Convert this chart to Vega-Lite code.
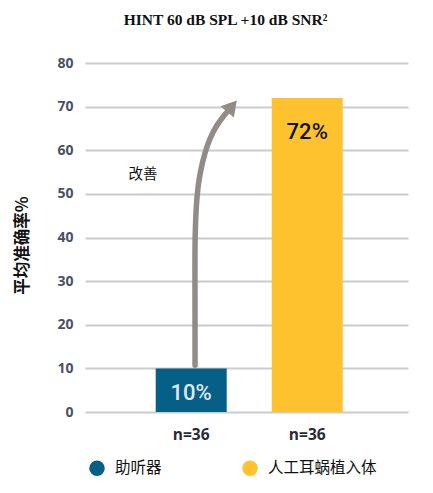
{
  "$schema": "https://vega.github.io/schema/vega-lite/v6.json",
  "autosize": "none",
  "padding": {"left": 85, "top": 63, "right": 25, "bottom": 81},
  "width": 323,
  "height": 349,
  "background": "white",
  "title": {
    "text": "HINT 60 dB SPL +10 dB SNR²",
    "font": "Liberation Serif",
    "fontSize": 15.5,
    "fontWeight": "bold",
    "color": "#111111",
    "anchor": "middle",
    "dx": -21,
    "offset": 28
  },
  "config": {
    "view": {"stroke": null},
    "font": "Open Sans"
  },
  "datasets": {
    "bars": [
      {"device": "助听器", "accuracy": 10, "label": "10%"},
      {"device": "人工耳蜗植入体", "accuracy": 72, "label": "72%"}
    ],
    "arrow": [
      {"i": 1, "u": 1.033, "v": 10.7},
      {"i": 2, "u": 1.033, "v": 29.0},
      {"i": 3, "u": 1.031, "v": 39.8},
      {"i": 4, "u": 1.047, "v": 49.7},
      {"i": 5, "u": 1.076, "v": 54.9},
      {"i": 6, "u": 1.119, "v": 59.6},
      {"i": 7, "u": 1.162, "v": 62.8},
      {"i": 8, "u": 1.22, "v": 65.8},
      {"i": 9, "u": 1.283, "v": 68.0},
      {"i": 10, "u": 1.33, "v": 69.4}
    ],
    "head": [{"u": 1.352, "v": 70.1}],
    "note": [{"u": 0.584, "v": 54.3, "text": "改善"}]
  },
  "layer": [
    {
      "data": {"name": "bars"},
      "encoding": {
        "x": {
          "field": "device",
          "type": "nominal",
          "sort": null,
          "scale": {"paddingInner": 0.388, "paddingOuter": 0.586, "align": 0.52},
          "axis": {
            "title": null,
            "labelExpr": "'n=36'",
            "labelAngle": 0,
            "ticks": false,
            "domain": false,
            "labelFont": "Open Sans",
            "labelFontWeight": "bold",
            "labelFontSize": 15.5,
            "labelColor": "#2a2a35",
            "labelPadding": 15
          }
        },
        "y": {
          "field": "accuracy",
          "type": "quantitative",
          "scale": {"domain": [0, 80], "nice": false},
          "axis": {
            "title": "平均准确率%",
            "titleFont": "Noto Sans CJK SC",
            "titleFontSize": 16.5,
            "titleFontWeight": "bold",
            "titleColor": "#111111",
            "titleAngle": -90,
            "titleX": -63,
            "titleY": 182,
            "titleAlign": "center",
            "titleBaseline": "middle",
            "values": [0, 10, 20, 30, 40, 50, 60, 70, 80],
            "ticks": false,
            "domain": false,
            "grid": true,
            "gridColor": "#c9cbcd",
            "gridWidth": 2,
            "labelFont": "Open Sans",
            "labelFontWeight": "bold",
            "labelFontSize": 14,
            "labelColor": "#48525f",
            "labelPadding": 12
          }
        }
      },
      "layer": [
        {
          "mark": {"type": "bar"},
          "encoding": {
            "color": {
              "field": "device",
              "type": "nominal",
              "sort": null,
              "scale": {"range": ["#065f87", "#fdc22e"]},
              "legend": {
                "title": null,
                "orient": "none",
                "direction": "horizontal",
                "legendX": 4,
                "legendY": 397,
                "symbolType": "circle",
                "symbolSize": 240,
                "symbolOpacity": 1,
                "symbolStrokeWidth": 0,
                "labelFont": "Noto Sans CJK SC",
                "labelFontSize": 15.5,
                "labelColor": "#111111",
                "labelOffset": 10,
                "columnPadding": 80
              }
            }
          }
        },
        {
          "transform": [{"filter": "datum.accuracy < 50"}],
          "mark": {
            "type": "text",
            "baseline": "middle",
            "dy": 25,
            "font": "Roboto",
            "fontSize": 22,
            "fontWeight": 500,
            "color": "#dfe8ee"
          },
          "encoding": {"text": {"field": "label"}}
        },
        {
          "transform": [{"filter": "datum.accuracy > 50"}],
          "mark": {
            "type": "text",
            "baseline": "middle",
            "dy": 34,
            "font": "Roboto",
            "fontSize": 22,
            "fontWeight": 500,
            "color": "#111111"
          },
          "encoding": {"text": {"field": "label"}}
        }
      ]
    },
    {
      "encoding": {
        "x": {"field": "u", "type": "quantitative", "scale": {"domain": [0.0845, 2.869], "nice": false, "zero": false}, "axis": null},
        "y": {"field": "v", "type": "quantitative"}
      },
      "layer": [
        {
          "data": {"name": "arrow"},
          "mark": {"type": "line", "interpolate": "basis", "color": "#938b88", "strokeWidth": 5.5, "strokeCap": "round"},
          "encoding": {"order": {"field": "i"}}
        },
        {
          "data": {"name": "head"},
          "mark": {"type": "point", "shape": "triangle-up", "filled": true, "color": "#938b88", "opacity": 1, "size": 300, "angle": 40}
        },
        {
          "data": {"name": "note"},
          "mark": {"type": "text", "font": "Noto Sans CJK SC", "fontSize": 14.5, "color": "#111111"},
          "encoding": {"text": {"field": "text"}}
        }
      ]
    }
  ],
  "resolve": {"scale": {"x": "independent"}}
}
